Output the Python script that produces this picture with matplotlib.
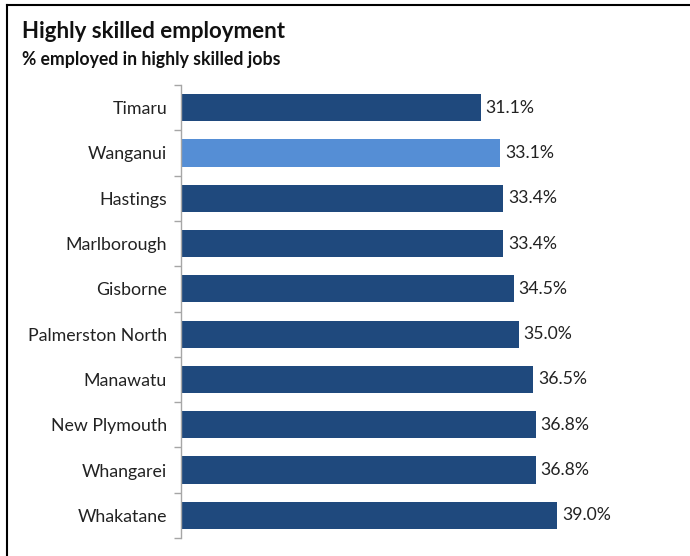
import matplotlib.pyplot as plt
from matplotlib.lines import Line2D
import numpy as np

plt.rcParams['font.family'] = ['Lato', 'DejaVu Sans']

# regions, top to bottom
regions = ["Timaru", "Wanganui", "Hastings", "Marlborough", "Gisborne",
           "Palmerston North", "Manawatu", "New Plymouth", "Whangarei", "Whakatane"]
pct_skilled = [31.1, 33.1, 33.4, 33.4, 34.5, 35.0, 36.5, 36.8, 36.8, 39.0]
highlight = "Wanganui"

NAVY = "#1F497D"
LIGHT = "#558ED5"

fig = plt.figure(figsize=(6.9, 5.56), dpi=100)
ax = fig.add_axes([181/690, 18/556, 434/690, 453/556])

y = np.arange(len(regions))
colors = [LIGHT if r == highlight else NAVY for r in regions]
ax.barh(y, pct_skilled, height=0.6, color=colors)
for yi, v in zip(y, pct_skilled):
    ax.text(v + 0.5, yi, f"{v:.1f}%", va="center", ha="left", fontsize=12.7, color="#222222")

ax.set_xlim(0, 45)
ax.set_ylim(len(regions) - 0.5, -0.5)
ax.set_xticks([])
ax.set_yticks(y)
ax.set_yticklabels(regions, fontsize=12.8, color="#222222")
ax.tick_params(axis="y", length=0, pad=10)
# tick marks sit between categories
ax.set_yticks(np.arange(-0.5, len(regions)), minor=True)
ax.tick_params(axis="y", which="minor", length=5, color="#A6A6A6", width=1)
for s in ["top", "right", "bottom"]:
    ax.spines[s].set_visible(False)
ax.spines["left"].set_color("#A6A6A6")
ax.spines["left"].set_linewidth(1)

fig.text(22/690, 1 - 31/556, "Highly skilled employment", fontsize=16, fontweight="bold",
         va="center", ha="left", color="#111111")
fig.text(22/690, 1 - 60/556, "% employed in highly skilled jobs", fontsize=12.7, fontweight="bold",
         va="center", ha="left", color="#111111")

# outer frame: top and left edges
fig.add_artist(Line2D([7/690, 7/690], [0, 1 - 5/556], transform=fig.transFigure, color="black", lw=1.5))
fig.add_artist(Line2D([7/690, 1], [1 - 5/556, 1 - 5/556], transform=fig.transFigure, color="black", lw=1.5))

fig.savefig("out.png", dpi=100)
